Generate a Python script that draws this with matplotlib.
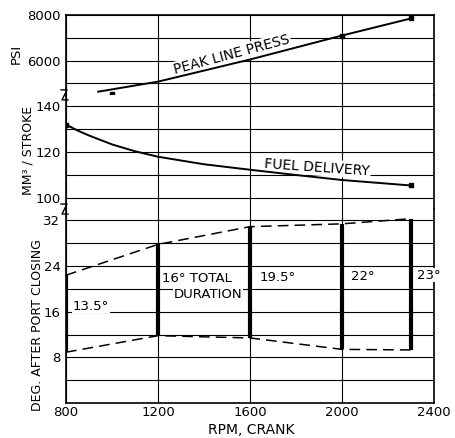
import matplotlib
matplotlib.use('Agg')
import matplotlib.pyplot as plt
from matplotlib.lines import Line2D

## Data -------------------------------------

rpm_ticks = [800, 1200, 1600, 2000, 2400]

# peak line pressure, psi
press_rpm = [940, 1200, 1600, 2000, 2300]
press_psi = [4640, 5080, 6050, 7100, 7850]
press_pt_rpm = [1000, 2000, 2300]
press_pt_psi = [4550, 7100, 7850]

# fuel delivery, mm3 per stroke
fuel_rpm = [800, 850, 900, 1000, 1100, 1200, 1400, 1600, 1800, 2000, 2300]
fuel_mm3 = [132, 129.4, 127.2, 123.3, 120.3, 117.9, 114.6, 112.2, 109.9, 107.7, 105.3]
fuel_pt_rpm = [800, 2300]
fuel_pt_mm3 = [132, 105.3]

# injection timing, deg after port closing
inj_rpm = [800, 1200, 1600, 2000, 2300]
inj_start = [8.9, 11.8, 11.4, 9.4, 9.3]
inj_total = [13.5, 16, 19.5, 22, 23]
inj_end = [s + d for s, d in zip(inj_start, inj_total)]

## Figure -----------------------------------

W, H = 456, 438
fig = plt.figure(figsize=(W / 100, H / 100), dpi=100)

left, right = 66, 434
top, bottom = 15, 403
row = (bottom - top) / 17.0

def px_axes(y0, y1):
    # y0, y1 in pixels from the top of the figure
    return fig.add_axes([left / W, 1 - y1 / H, (right - left) / W, (y1 - y0) / H])

y_a = top + 3.5 * row
y_b = y_a + 5 * row
ax_p = px_axes(top, y_a)
ax_f = px_axes(y_a, y_b)
ax_d = px_axes(y_b, bottom)

fs = 9.5
for ax in (ax_p, ax_f, ax_d):
    ax.set_xlim(800, 2400)
    ax.set_xticks(rpm_ticks)
    ax.grid(True, color='black', lw=0.8)
    ax.set_axisbelow(True)
    ax.tick_params(length=0, labelsize=fs, pad=4)
    for s in ax.spines.values():
        s.set_linewidth(1.2)
    if ax is not ax_d:
        ax.set_xticklabels([])
ax_p.spines['bottom'].set_visible(False)
ax_f.spines['top'].set_visible(False)
ax_f.spines['bottom'].set_visible(False)
ax_d.spines['top'].set_visible(False)

ax_p.set_ylim(4500, 8000)
ax_p.set_yticks([5000, 6000, 7000, 8000])
ax_p.set_yticklabels(['', '6000', '', '8000'])

ax_f.set_ylim(95, 145)
ax_f.set_yticks([100, 110, 120, 130, 140])
ax_f.set_yticklabels(['100', '', '120', '', '140'])

ax_d.set_ylim(0, 34)
ax_d.set_yticks(range(0, 33, 4))
ax_d.set_yticklabels(['', '', '8', '', '16', '', '24', '', '32'])
ax_d.tick_params(axis='x', pad=2)

box = dict(facecolor='white', edgecolor='none', pad=1)

## Peak line pressure
ax_p.plot(press_rpm, press_psi, color='black', lw=1.4, zorder=4)
ax_p.plot(press_pt_rpm, press_pt_psi, 's', color='black', ms=2.5, zorder=4)
ax_p.text(1520, 6250, 'PEAK LINE PRESS', rotation=15, ha='center', va='center',
          fontsize=10, bbox=box, zorder=3)

## Fuel delivery
ax_f.plot(fuel_rpm, fuel_mm3, color='black', lw=1.4, zorder=4)
ax_f.plot(fuel_pt_rpm, fuel_pt_mm3, 's', color='black', ms=2.5, zorder=4)
ax_f.text(1890, 113.3, 'FUEL DELIVERY', rotation=-4, ha='center', va='center',
          fontsize=10, bbox=box, zorder=3)

## Injection timing
ax_d.plot(inj_rpm, inj_end, color='black', lw=1.1, dashes=(7, 4), zorder=4)
ax_d.plot(inj_rpm, inj_start, color='black', lw=1.1, dashes=(7, 4), zorder=4)
ax_d.vlines(inj_rpm, inj_start, inj_end, color='black', lw=3, zorder=5)

lab_pos = [(830, 17.0), (1217, 21.9), (1640, 22.0), (2040, 22.2), (2328, 22.4)]
lab_txt = ['%g°' % d for d in inj_total]
lab_txt[1] = '16° TOTAL'
for (x, y), t in zip(lab_pos, lab_txt):
    ax_d.text(x, y, t, ha='left', va='center', fontsize=fs,
              bbox=dict(facecolor='white', edgecolor='none', pad=0.5), zorder=3)
ax_d.text(1270, 19.0, 'DURATION', ha='left', va='center', fontsize=fs,
          bbox=dict(facecolor='white', edgecolor='none', pad=0.5), zorder=3)

## Axis titles
def fig_text(x, y, s, **kw):
    fig.text(x / W, 1 - y / H, s, ha='center', va='center', **kw)

fig_text(16, 54, 'PSI', rotation=90, fontsize=9.5)
fig_text(28, 150, 'MM³ / STROKE', rotation=90, fontsize=9)
fig_text(38, 325, 'DEG. AFTER PORT CLOSING', rotation=90, fontsize=9)
fig_text(251, 430, 'RPM, CRANK', fontsize=10)

## Scale break marks on the left axis
for yb in (y_a, y_b):
    xs = [61, 67, 62, 68]
    ys = [yb - 5, yb - 5, yb + 5, yb + 5]
    fig.add_artist(Line2D([x / W for x in xs], [1 - y / H for y in ys],
                          color='black', lw=1.0))

fig.savefig('out.png', dpi=100)
